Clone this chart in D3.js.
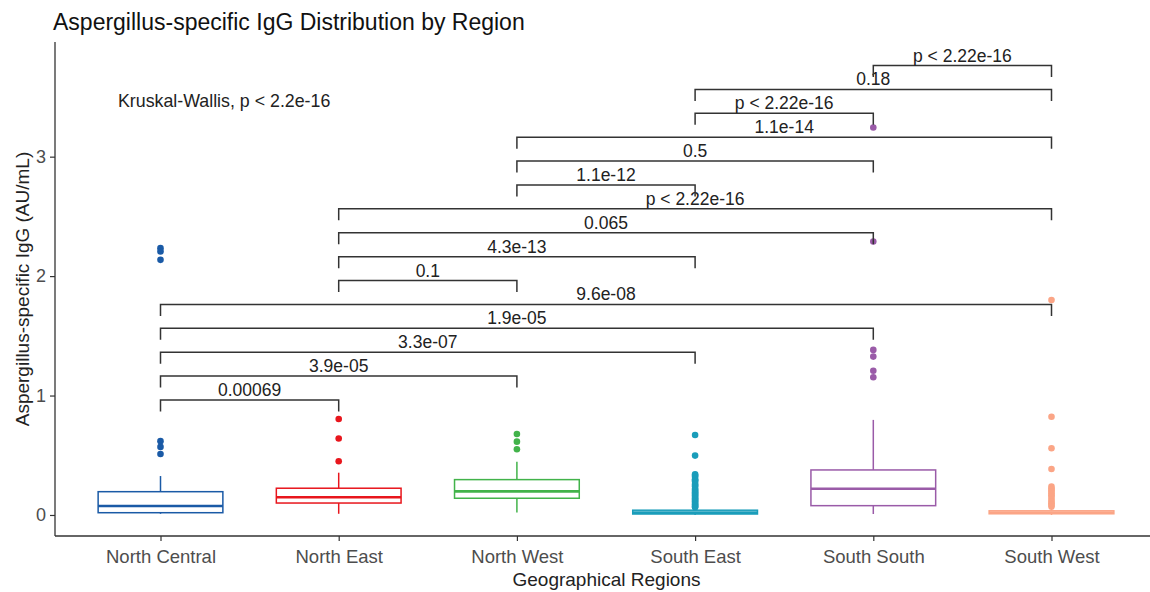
<!DOCTYPE html>
<html>
<head>
<meta charset="utf-8">
<script src="https://cdn.jsdelivr.net/npm/d3@7"></script>
<style>
  html, body { margin: 0; padding: 0; background: #fff; }
  svg { display: block; font-family: "Liberation Sans", Arial, sans-serif; }
</style>
</head>
<body>
<svg id="chart" width="1150" height="592"></svg>
<script>
// Regions and their boxplot summaries (AU/mL)
const regions = ["North Central", "North East", "North West", "South East", "South South", "South West"];
const colors = ["#1a5aa6", "#e8161d", "#42b34a", "#1a9dba", "#9a5ba8", "#fba586"];
const whiskerLow = [0.01, 0.01, 0.02, 0.0, 0.008, 0.0];
const q1 = [0.019, 0.10, 0.14, 0.008, 0.078, 0.01];
const median = [0.075, 0.148, 0.198, 0.02, 0.22, 0.02];
const q3 = [0.195, 0.224, 0.296, 0.04, 0.377, 0.035];
const whiskerHigh = [0.326, 0.354, 0.446, 0.06, 0.796, 0.06];
const outliers = [
  [2.234, 2.206, 2.136, 0.618, 0.57, 0.51],
  [0.804, 0.64, 0.45],
  [0.678, 0.614, 0.55],
  [0.67, 0.497, 0.34, 0.33, 0.32, 0.30, 0.29, 0.28, 0.26, 0.25, 0.24, 0.22, 0.21, 0.20,
   0.19, 0.18, 0.17, 0.16, 0.15, 0.14, 0.13, 0.12, 0.11, 0.10, 0.09, 0.08, 0.07, 0.065],
  [3.244, 2.29, 1.382, 1.326, 1.208, 1.153],
  [1.80, 0.823, 0.559, 0.385, 0.237, 0.22, 0.21, 0.195, 0.18, 0.165, 0.15, 0.13, 0.11, 0.098, 0.085, 0.07]
];

// Pairwise Wilcoxon comparisons
const compareA = ["North Central", "North Central", "North Central", "North Central", "North Central",
  "North East", "North East", "North East", "North East",
  "North West", "North West", "North West",
  "South East", "South East", "South South"];
const compareB = ["North East", "North West", "South East", "South South", "South West",
  "North West", "South East", "South South", "South West",
  "South East", "South South", "South West",
  "South South", "South West", "South West"];
const pLabels = ["0.00069", "3.9e-05", "3.3e-07", "1.9e-05", "9.6e-08",
  "0.1", "4.3e-13", "0.065", "p < 2.22e-16",
  "1.1e-12", "0.5", "1.1e-14",
  "p < 2.22e-16", "0.18", "p < 2.22e-16"];
const yTicks = [0, 1, 2, 3];
const kruskalLabel = "Kruskal-Wallis, p < 2.2e-16";

// Layout
const svg = d3.select("#chart");
const panel = { left: 55, right: 1158, top: 42, bottom: 536 };
const x = d3.scalePoint().domain(regions).range([160.5, 1051.5]);
const step = x.step();
const y = d3.scaleLinear().domain([-0.176, 3.96]).range([panel.bottom, panel.top]);
const boxW = step * 0.7;
const bracketBase = 0.963, bracketStep = 0.2, tipPx = 11.5;

const g = svg.append("g");

// Boxes
regions.forEach((r, i) => {
  const cx = x(r), col = colors[i];
  const bg = g.append("g");
  bg.append("line").attr("x1", cx).attr("x2", cx)
    .attr("y1", y(q3[i])).attr("y2", y(whiskerHigh[i]))
    .attr("stroke", col).attr("stroke-width", 1.5);
  bg.append("line").attr("x1", cx).attr("x2", cx)
    .attr("y1", y(q1[i])).attr("y2", y(whiskerLow[i]))
    .attr("stroke", col).attr("stroke-width", 1.5);
  bg.append("rect").attr("x", cx - boxW / 2).attr("width", boxW)
    .attr("y", y(q3[i])).attr("height", Math.max(0, y(q1[i]) - y(q3[i])))
    .attr("fill", "#fff").attr("stroke", col).attr("stroke-width", 1.5);
  bg.append("line").attr("x1", cx - boxW / 2).attr("x2", cx + boxW / 2)
    .attr("y1", y(median[i])).attr("y2", y(median[i]))
    .attr("stroke", col).attr("stroke-width", 2.6);
  bg.selectAll("circle").data(outliers[i]).enter().append("circle")
    .attr("cx", cx).attr("cy", d => y(d)).attr("r", 3.3)
    .attr("fill", col);
});

// Comparison brackets
const bg2 = g.append("g");
pLabels.forEach((lab, i) => {
  const ly = y(bracketBase + bracketStep * i);
  const xa = x(compareA[i]), xb = x(compareB[i]);
  bg2.append("path")
    .attr("d", `M${xa},${ly + tipPx}V${ly}H${xb}V${ly + tipPx}`)
    .attr("fill", "none").attr("stroke", "#333").attr("stroke-width", 1.5);
  bg2.append("text").attr("x", (xa + xb) / 2).attr("y", ly - 4)
    .attr("text-anchor", "middle").attr("font-size", 17.5).attr("fill", "#222")
    .text(lab);
});

// Axes
const yAxis = d3.axisLeft(y).tickValues(yTicks).tickFormat(d3.format("d")).tickSize(5).tickPadding(4);
const yg = svg.append("g").attr("transform", `translate(${panel.left},0)`).call(yAxis);
yg.select(".domain").attr("d", `M0,${panel.top}V${panel.bottom}`).attr("stroke", "#333").attr("stroke-width", 1.3);
yg.selectAll(".tick line").attr("stroke", "#333").attr("stroke-width", 1.2);
yg.selectAll(".tick text").attr("font-size", 18).attr("fill", "#4d4d4d").attr("font-family", "Liberation Sans, Arial, sans-serif");

const xAxis = d3.axisBottom(x).tickSize(5).tickPadding(9);
const xg = svg.append("g").attr("transform", `translate(0,${panel.bottom})`).call(xAxis);
xg.select(".domain").attr("d", `M${panel.left},0H${panel.right}`).attr("stroke", "#333").attr("stroke-width", 1.3);
xg.selectAll(".tick line").attr("stroke", "#333").attr("stroke-width", 1.2);
xg.selectAll(".tick text").attr("font-size", 18.5).attr("fill", "#4d4d4d").attr("font-family", "Liberation Sans, Arial, sans-serif");

// Titles and annotation
svg.append("text").attr("x", 53).attr("y", 30).attr("font-size", 23).attr("fill", "#111")
  .text("Aspergillus-specific IgG Distribution by Region");
svg.append("text").attr("x", (panel.left + panel.right) / 2).attr("y", 586)
  .attr("text-anchor", "middle").attr("font-size", 19).attr("fill", "#222")
  .text("Geographical Regions");
svg.append("text").attr("transform", `translate(29,${(panel.top + panel.bottom) / 2}) rotate(-90)`)
  .attr("text-anchor", "middle").attr("font-size", 19).attr("fill", "#222")
  .text("Aspergillus-specific IgG (AU/mL)");
svg.append("text").attr("x", 118).attr("y", 107).attr("font-size", 17.8).attr("fill", "#222")
  .text(kruskalLabel);
</script>
</body>
</html>
